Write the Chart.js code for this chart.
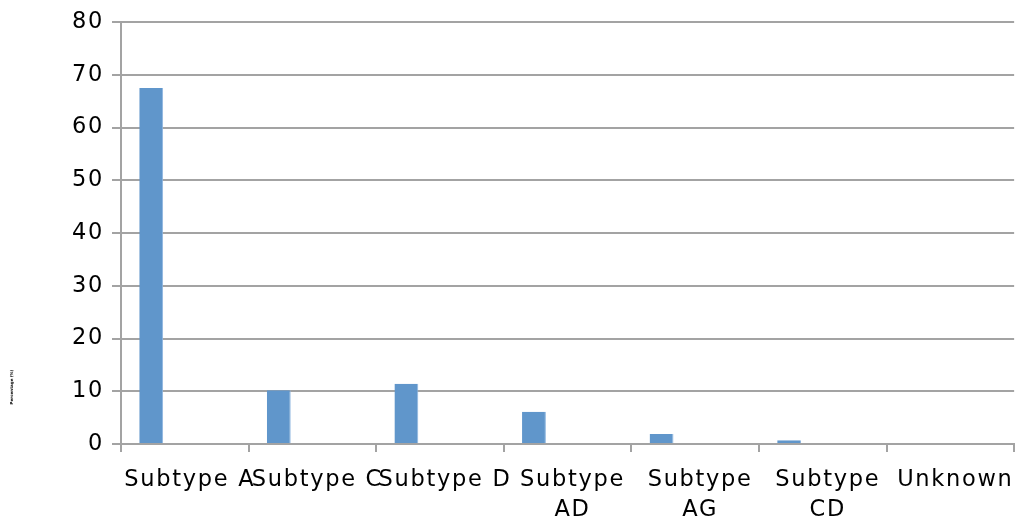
<!DOCTYPE html>
<html>
<head>
<meta charset="utf-8">
<script src="https://cdn.jsdelivr.net/npm/chart.js@4/dist/chart.umd.min.js"></script>
<style>
  html, body { margin: 0; padding: 0; background: #ffffff; }
  #wrap { width: 1023px; height: 519px; }
</style>
</head>
<body>
<div id="wrap"><canvas id="chart" width="1023" height="519"></canvas></div>
<script>
// HIV subtype distribution (%)
const categories = ['Subtype A', 'Subtype C', 'Subtype D', ['Subtype', 'AD'], ['Subtype', 'AG'], ['Subtype', 'CD'], 'Unknown'];
const percentValues = [67.5, 10.2, 11.4, 6.1, 1.9, 0.7, 0];
// Two further series in the workbook carry no values
const series2Values = [null, null, null, null, null, null, null];
const series3Values = [null, null, null, null, null, null, null];
const yTicks = { min: 0, max: 80, step: 10 };
const yAxisTitle = 'Percentage (%)';

const FONT = 'DejaVu Sans, Verdana, sans-serif';
const GRID = '#a3a3a3';

// Wide tracking on all axis text
const tracking = {
  id: 'tracking',
  beforeUpdate(chart) { chart.ctx.letterSpacing = '1.7px'; },
  beforeDraw(chart) { chart.ctx.letterSpacing = '1.7px'; }
};

// Small rotated axis caption at the far left
const sideCaption = {
  id: 'sideCaption',
  afterDraw(chart) {
    const ctx = chart.ctx;
    ctx.save();
    ctx.letterSpacing = '0px';
    ctx.translate(12, 387);
    ctx.rotate(-Math.PI / 2);
    ctx.font = 'bold 4px ' + FONT;
    ctx.fillStyle = '#000000';
    ctx.textAlign = 'center';
    ctx.textBaseline = 'middle';
    ctx.fillText(yAxisTitle, 0, 0);
    ctx.restore();
  }
};

const barStyle = {
  backgroundColor: '#6096cb',
  borderColor: '#8db6e0',
  borderWidth: { top: 0, left: 0, right: 1, bottom: 0 },
  categoryPercentage: 0.79,
  barPercentage: 0.71
};

new Chart(document.getElementById('chart'), {
  type: 'bar',
  data: {
    labels: categories,
    datasets: [
      Object.assign({ label: 'Percentage', data: percentValues }, barStyle),
      Object.assign({ label: 'Series 2', data: series2Values }, barStyle),
      Object.assign({ label: 'Series 3', data: series3Values }, barStyle)
    ]
  },
  options: {
    responsive: false,
    animation: false,
    devicePixelRatio: 1,
    layout: { padding: { left: 8, right: 7, top: 22, bottom: 0 } },
    plugins: {
      legend: { display: false },
      tooltip: { enabled: false }
    },
    scales: {
      x: {
        grid: {
          display: true,
          drawOnChartArea: false,
          drawTicks: true,
          tickLength: 8,
          color: GRID,
          lineWidth: 2
        },
        border: { display: true, color: GRID, width: 2 },
        ticks: {
          autoSkip: false,
          maxRotation: 0,
          minRotation: 0,
          color: '#000000',
          font: { family: FONT, size: 22.5, lineHeight: 1.3 },
          padding: 14,
          labelOffset: 5
        },
        afterFit(scale) { scale.height = 75; }
      },
      y: {
        min: yTicks.min,
        max: yTicks.max,
        grid: {
          color: GRID,
          lineWidth: 2,
          drawTicks: true,
          tickLength: 9
        },
        border: { display: true, color: GRID, width: 2 },
        ticks: {
          stepSize: yTicks.step,
          color: '#000000',
          font: { family: FONT, size: 22.5 },
          padding: 8
        },
        afterFit(scale) { scale.width = 113; }
      }
    }
  },
  plugins: [tracking, sideCaption]
});
</script>
</body>
</html>
